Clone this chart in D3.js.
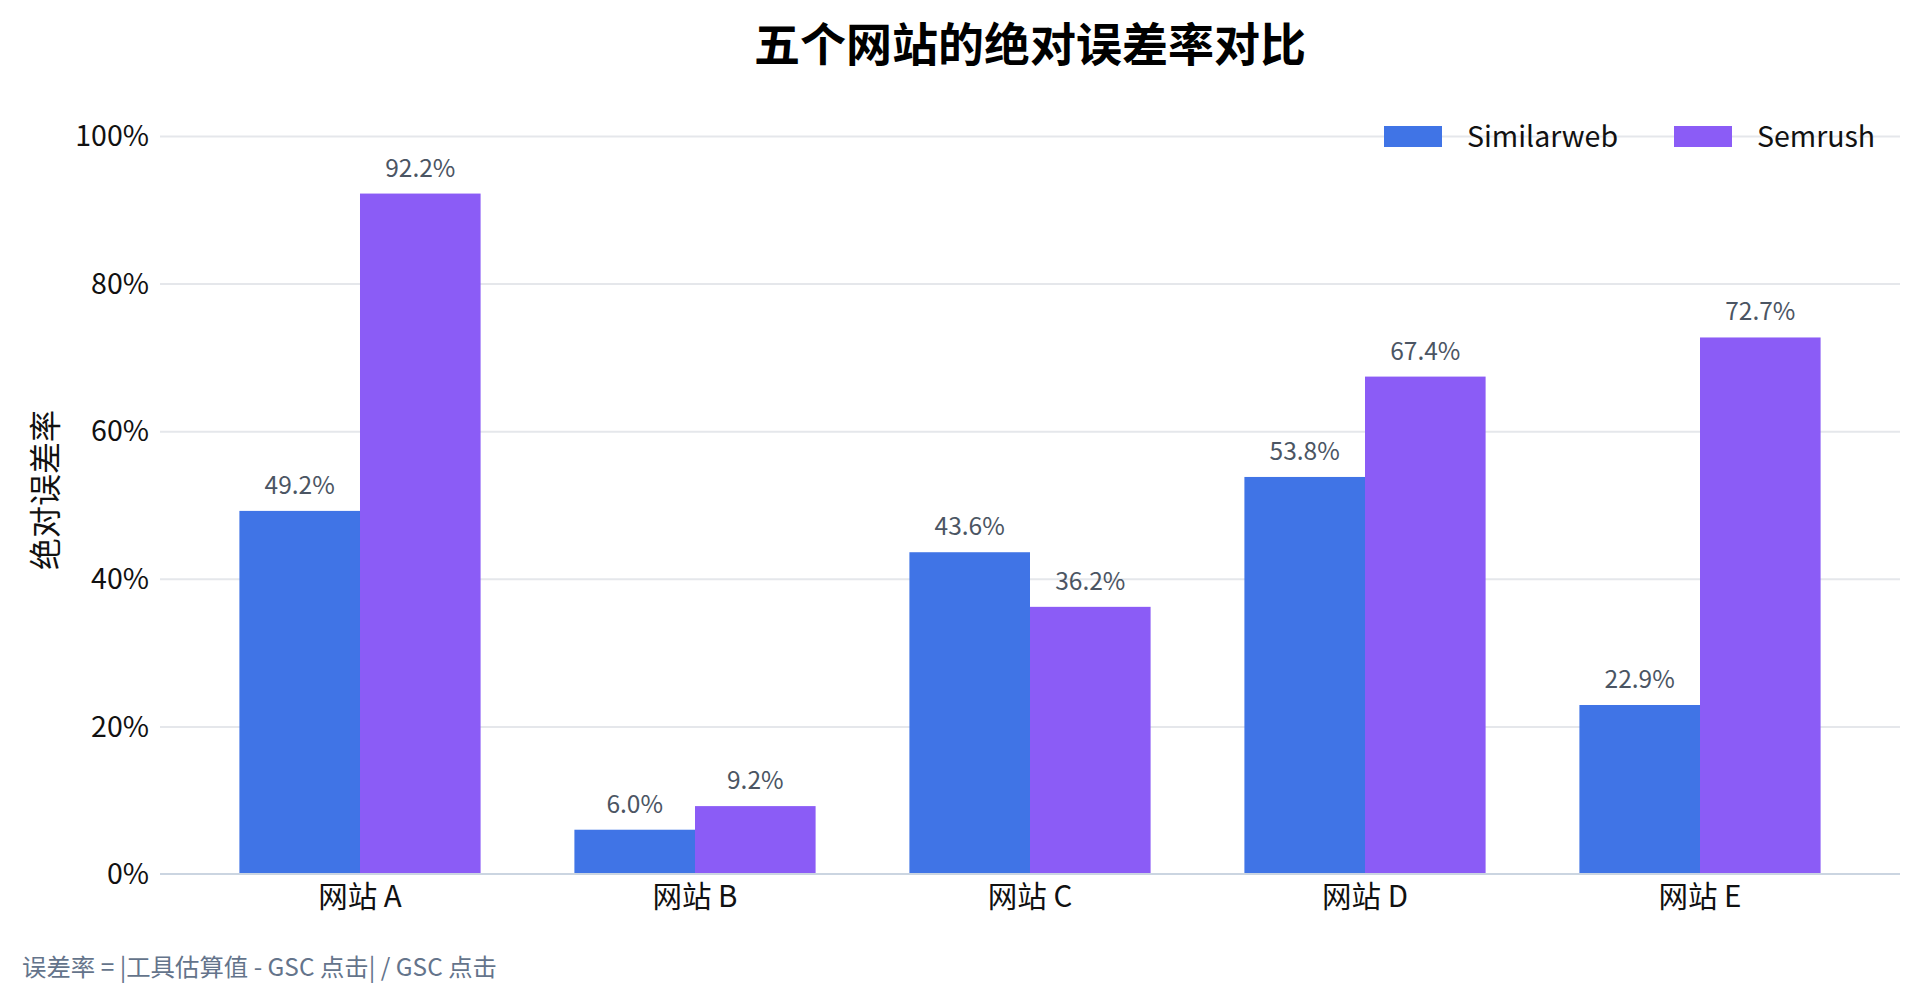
<!DOCTYPE html>
<html lang="zh">
<head>
    <meta charset="UTF-8">
    <title>五个网站的绝对误差率对比</title>
    <script src="https://d3js.org/d3.v7.min.js"></script>
    <style>
        html, body {
            margin: 0;
            padding: 0;
            background: #fff;
        }
        svg text {
            font-family: "Noto Sans CJK SC", "Noto Sans", sans-serif;
        }
        .grid line {
            stroke: #e5e7eb;
            stroke-width: 2px;
        }
        .grid .domain {
            display: none;
        }
    </style>
</head>
<body>
    <div id="chart"></div>

    <script>
        // data
        const sites = ["网站 A", "网站 B", "网站 C", "网站 D", "网站 E"];
        const seriesNames = ["Similarweb", "Semrush"];
        const similarweb = [49.2, 6.0, 43.6, 53.8, 22.9];
        const semrush = [92.2, 9.2, 36.2, 67.4, 72.7];
        const yTicks = [0, 20, 40, 60, 80, 100];
        const colors = ["#4074e6", "#8b5cf6"];

        const width = 1920, height = 1003;
        const margin = {top: 136, right: 20, bottom: 129, left: 160};

        const svg = d3.select("#chart").append("svg")
            .attr("width", width)
            .attr("height", height);

        const x0 = d3.scaleBand()
            .domain(sites)
            .range([margin.left, width - margin.right])
            .paddingInner(0.28)
            .paddingOuter(0.237);

        const x1 = d3.scaleBand()
            .domain(seriesNames)
            .range([0, x0.bandwidth()]);

        const y = d3.scaleLinear()
            .domain([0, 100])
            .range([height - margin.bottom, margin.top]);

        // gridlines (skip 0, drawn as baseline)
        svg.append("g")
            .attr("class", "grid")
            .attr("transform", `translate(${margin.left},0)`)
            .call(d3.axisLeft(y)
                .tickValues(yTicks.slice(1))
                .tickSize(-(width - margin.left - margin.right))
                .tickFormat(""));

        // y tick labels
        svg.append("g")
            .selectAll("text")
            .data(yTicks)
            .join("text")
            .attr("x", margin.left - 11)
            .attr("y", d => y(d))
            .attr("dy", "0.36em")
            .attr("text-anchor", "end")
            .attr("font-size", 28.5)
            .attr("fill", "#111")
            .text(d => d + "%");

        // bars
        const data = sites.map((s, i) => ({
            site: s,
            values: [similarweb[i], semrush[i]]
        }));

        const groups = svg.append("g")
            .selectAll("g")
            .data(data)
            .join("g")
            .attr("transform", d => `translate(${x0(d.site)},0)`);

        groups.selectAll("rect")
            .data(d => d.values.map((v, j) => ({key: seriesNames[j], value: v, j: j})))
            .join("rect")
            .attr("x", d => x1(d.key))
            .attr("y", d => y(d.value))
            .attr("width", x1.bandwidth())
            .attr("height", d => y(0) - y(d.value))
            .attr("fill", d => colors[d.j]);

        groups.selectAll("text")
            .data(d => d.values.map((v, j) => ({key: seriesNames[j], value: v})))
            .join("text")
            .attr("x", d => x1(d.key) + x1.bandwidth() / 2)
            .attr("y", d => y(d.value) - 17)
            .attr("text-anchor", "middle")
            .attr("font-size", 24.5)
            .attr("fill", "#4b5563")
            .text(d => d.value.toFixed(1) + "%");

        // baseline
        svg.append("line")
            .attr("x1", margin.left)
            .attr("x2", width - margin.right)
            .attr("y1", y(0))
            .attr("y2", y(0))
            .attr("stroke", "#cbd5e1")
            .attr("stroke-width", 2);

        // x labels
        svg.append("g")
            .selectAll("text")
            .data(sites)
            .join("text")
            .attr("x", d => x0(d) + x0.bandwidth() / 2)
            .attr("y", y(0) + 33)
            .attr("text-anchor", "middle")
            .attr("font-size", 29.5)
            .attr("fill", "#111")
            .text(d => d);

        // y axis title
        svg.append("text")
            .attr("transform", "translate(46,490) rotate(-90)")
            .attr("dy", "0.35em")
            .attr("text-anchor", "middle")
            .attr("font-size", 32)
            .attr("fill", "#111")
            .text("绝对误差率");

        // title
        svg.append("text")
            .attr("x", (margin.left + width - margin.right) / 2)
            .attr("y", 61)
            .attr("text-anchor", "middle")
            .attr("font-size", 46)
            .attr("font-weight", "bold")
            .attr("fill", "#000")
            .text("五个网站的绝对误差率对比");

        // legend
        const legendX = [1384, 1674];
        const legend = svg.append("g")
            .selectAll("g")
            .data(seriesNames)
            .join("g")
            .attr("transform", (d, i) => `translate(${legendX[i]},126)`);

        legend.append("rect")
            .attr("width", 58)
            .attr("height", 21)
            .attr("fill", (d, i) => colors[i]);

        legend.append("text")
            .attr("x", 83)
            .attr("y", 21)
            .attr("font-size", 28.5)
            .attr("fill", "#111")
            .text(d => d);

        // footnote
        svg.append("text")
            .attr("x", 22)
            .attr("y", 976)
            .attr("font-size", 24.4)
            .attr("fill", "#64748b")
            .text("误差率 = |工具估算值 - GSC 点击| / GSC 点击");
    </script>
</body>
</html>
